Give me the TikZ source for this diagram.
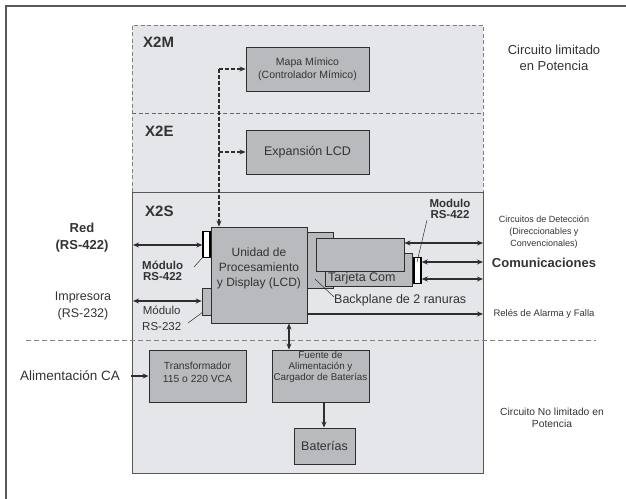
\documentclass[tikz,border=0pt]{standalone}
\usepackage{fontspec}
\setmainfont{Liberation Sans}
\usetikzlibrary{arrows.meta}
\definecolor{panelfill}{HTML}{E4E6EA}
\definecolor{boxfill}{HTML}{B9BABD}
\definecolor{ink}{HTML}{2E2E2E}
\definecolor{txt}{HTML}{333333}
\tikzset{
  blk/.style={draw=ink, line width=0.9pt, fill=boxfill, inner sep=0pt, text=txt, align=center},
  modw/.style={draw=black, line width=1.4pt, fill=white, inner sep=0pt, minimum width=7pt, minimum height=26pt},
  modg/.style={draw=ink, line width=0.6pt, fill=boxfill, inner sep=0pt, minimum width=9pt, minimum height=27pt},
  lbl/.style={inner sep=0pt, text=txt, align=center},
  conn/.style={line width=1.3pt, draw=ink},
  tipA/.style={-{Stealth[length=6pt,width=5pt]}},
  tipB/.style={{Stealth[length=6pt,width=5pt]}-{Stealth[length=6pt,width=5pt]}},
  dashconn/.style={line width=1.3pt, draw=ink, dash pattern=on 3.5pt off 2.5pt},
  leader/.style={line width=0.5pt, draw=ink}
}
\begin{document}
\begin{tikzpicture}[x=1pt,y=-1pt]
\useasboundingbox (0,0) rectangle (626,498);
% outer frame
\draw[line width=1.2pt, draw=ink!80] (6,6) rectangle (640,510);
% limited panel
\fill[panelfill] (132,25) rectangle (483,192);
\draw[gray, line width=0.8pt, dash pattern=on 4pt off 2.5pt] (132,192) -- (132,25) -- (483,25) -- (483,192);
\draw[gray!80!black, line width=0.8pt, dash pattern=on 4pt off 2.5pt] (132,113) -- (483,113);
% X2S box
\draw[ink!80, line width=1pt, fill=panelfill] (132,192) rectangle (483,473);
% section dashed divider
\draw[gray, line width=0.8pt, dash pattern=on 5pt off 3pt] (26,340) -- (596,340);

\node[lbl, font=\fontsize{15}{15}\selectfont\bfseries, anchor=west] (x2m) at (143,42) {X2M};
\node[lbl, font=\fontsize{15}{15}\selectfont\bfseries, anchor=west] (x2e) at (145,131) {X2E};
\node[lbl, font=\fontsize{15}{15}\selectfont\bfseries, anchor=west] (x2s) at (145,211) {X2S};

% boxes
\node[blk, minimum width=123pt, minimum height=44pt, font=\fontsize{10.5}{13.5}\selectfont] (mapa) at (307.5,69) {Mapa Mímico\\(Controlador Mímico)};
\node[blk, minimum width=123pt, minimum height=44pt, font=\fontsize{12.5}{15}\selectfont] (lcdx) at (307.5,152) {Expansión LCD};
\node[blk, minimum width=26pt, minimum height=56pt] (bp) at (320,260) {};
\node[blk, minimum width=96pt, minimum height=96pt] (cpu) at (259,275) {};
\node[lbl, font=\fontsize{12}{15}\selectfont] (cputxt) at ([yshift=7pt]cpu.center) {Unidad de\\Procesamiento\\y Display (LCD)};
\node[blk, minimum width=87pt, minimum height=33pt] (tcom) at (368.5,269.5) {};
\node[blk, minimum width=88pt, minimum height=33pt] (card) at (360,254.5) {};
\node[modw] (m422l) at (206.5,244.5) {};
\node[modg] (m232) at (206.5,301.5) {};
\node[modw] (m422r) at (417.5,270.5) {};
\node[blk, minimum width=97pt, minimum height=52pt] (trafo) at (197.5,376) {};
\node[lbl, font=\fontsize{10.3}{13}\selectfont] (trafotxt) at ([yshift=3.5pt]trafo.center) {Transformador\\115 o 220 VCA};
\node[blk, minimum width=97pt, minimum height=52pt] (fuente) at (320.5,376) {};
\node[lbl, font=\fontsize{9.8}{11}\selectfont] (fuentetxt) at ([yshift=9pt]fuente.center) {Fuente de\\Alimentación y\\Cargador de Baterías};
\node[blk, minimum width=61pt, minimum height=36pt, font=\fontsize{12.5}{15}\selectfont] (bat) at (324.5,446) {Baterías};

% labels
\node[lbl, font=\fontsize{12.5}{15}\selectfont, anchor=west] (tlab) at (328,278) {Tarjeta Com};
\node[lbl, font=\fontsize{12.5}{15}\selectfont, anchor=west] (bplab) at (334,300) {Backplane de 2 ranuras};
\node[lbl, font=\fontsize{13}{17}\selectfont\bfseries] (red) at (82,237.5) {Red\\(RS-422)};
\node[lbl, font=\fontsize{11.5}{11.5}\selectfont\bfseries, anchor=west] (m422llab) at (142,271) {Módulo\\RS-422};
\node[lbl, font=\fontsize{12.5}{17}\selectfont] (imp) at (83,305.5) {Impresora\\(RS-232)};
\node[lbl, font=\fontsize{11.5}{16}\selectfont, anchor=west] (m232lab) at (142,318) {Módulo\\RS-232};
\node[lbl, font=\fontsize{11.5}{11.5}\selectfont\bfseries] (m422rlab) at (450,209) {Modulo\\RS-422};
\node[lbl, font=\fontsize{9}{12}\selectfont] (circ) at (544,232) {Circuitos de Detección\\(Direccionables y\\Convencionales)};
\node[lbl, font=\fontsize{13}{15}\selectfont\bfseries] (comm) at (544,263) {Comunicaciones};
\node[lbl, font=\fontsize{9.5}{12}\selectfont] (rel) at (544,314) {Relés de Alarma y Falla};
\node[lbl, font=\fontsize{13.5}{15}\selectfont] (alim) at (70,376) {Alimentación CA};
\node[lbl, font=\fontsize{13}{16}\selectfont] (lim) at (554,58) {Circuito limitado\\en Potencia};
\node[lbl, font=\fontsize{10.3}{12}\selectfont] (nolim) at (552,418) {Circuito No limitado en\\Potencia};

% coordinates
\coordinate (tap1) at (219,69);
\coordinate (tap2) at (219,152);
\coordinate (redL) at (133,245);
\coordinate (impL) at (133,301);
\coordinate (alimL) at (131,376);
\coordinate (r1) at (483,243);
\coordinate (r2) at (483,262);
\coordinate (r3) at (483,279);
\coordinate (r4) at (483,314);

% dashed expansion bus
\draw[dashconn, tipA] (tap1) -- (mapa.west |- tap1);
\draw[dashconn, tipA] (tap2) -- (lcdx.west |- tap2);
\draw[dashconn, tipA] (tap1) -- (tap1 |- cpu.north);

% connectors
\draw[conn, tipB] (redL) -- (m422l.west |- redL);
\draw[conn, tipB] (impL) -- (m232.west |- impL);
\draw[conn, tipB] (card.east |- r1) -- (r1);
\draw[conn, tipB] (m422r.east |- r2) -- (r2);
\draw[conn, tipB] (m422r.east |- r3) -- (r3);
\draw[conn, tipA] (cpu.east |- r4) -- (r4);
\draw[conn, tipB] (289,0 |- cpu.south) -- (289,0 |- fuente.north);
\draw[conn, tipA] (324,0 |- fuente.south) -- (324,0 |- bat.north);
\draw[conn, tipA] (alimL) -- (trafo.west |- alimL);

% leaders
\draw[leader] (194,267) -- (203,257);
\draw[leader] (188,323) -- (203,312);
\draw[leader] (427,220) -- (417,262);
\draw[leader] (334,297) -- (315,279);
\end{tikzpicture}
\end{document}
